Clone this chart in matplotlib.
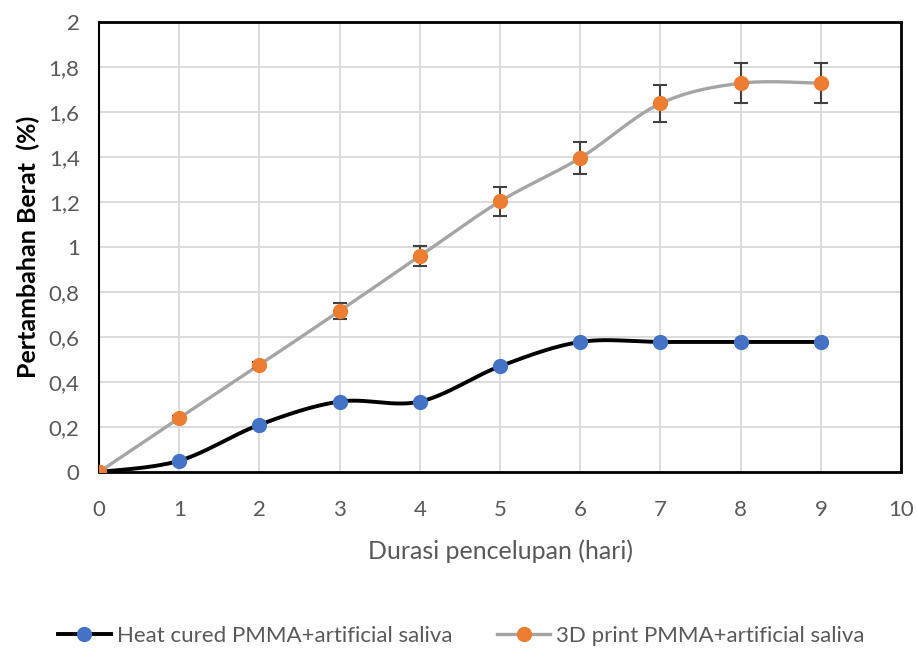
import numpy as np
import matplotlib
matplotlib.use("Agg")
import matplotlib.pyplot as plt
from matplotlib.lines import Line2D

plt.rcParams['font.family'] = ['Lato', 'DejaVu Sans']

# data
days = [0, 1, 2, 3, 4, 5, 6, 7, 8, 9]
heat_cured = [0, 0.05, 0.21, 0.313, 0.313, 0.47, 0.578, 0.578, 0.578, 0.578]
print3d = [0, 0.24, 0.476, 0.716, 0.96, 1.203, 1.396, 1.638, 1.728, 1.728]
print3d_err = [0, 0.01, 0.015, 0.037, 0.044, 0.063, 0.072, 0.081, 0.088, 0.088]
heat_label = 'Heat cured PMMA+artificial saliva'
print_label = '3D print PMMA+artificial saliva'


def smooth(x, y, n=40):
    # excel-like smoothed line (catmull-rom through the points)
    x = np.asarray(x, float)
    y = np.asarray(y, float)
    px = np.concatenate([[x[0]], x, [x[-1]]])
    py = np.concatenate([[y[0]], y, [y[-1]]])
    xs, ys = [], []
    t = np.linspace(0, 1, n)
    for i in range(1, len(px) - 2):
        p0, p1, p2, p3 = (np.array([px[j], py[j]]) for j in (i - 1, i, i + 1, i + 2))
        c1 = p1 + (p2 - p0) / 6
        c2 = p2 - (p3 - p1) / 6
        pts = ((1 - t) ** 3)[:, None] * p1 + (3 * (1 - t) ** 2 * t)[:, None] * c1 \
            + (3 * (1 - t) * t ** 2)[:, None] * c2 + (t ** 3)[:, None] * p2
        xs.extend(pts[:, 0])
        ys.extend(pts[:, 1])
    return xs, ys


blue = '#4472C4'
orange = '#ED7D31'
grey_line = '#A5A5A5'
txt = '#595959'

fig = plt.figure(figsize=(9.17, 6.48), dpi=100)
ax = fig.add_axes([0.108, 0.2716, 0.8746, 0.6944])

sx, sy = smooth(days, heat_cured)
ax.plot(sx, sy, color='black', lw=2.8, zorder=3, solid_capstyle='round')
ax.plot(days, heat_cured, 'o', color=blue, ms=10, zorder=4)

sx, sy = smooth(days, print3d)
ax.plot(sx, sy, color=grey_line, lw=2.4, zorder=5, solid_capstyle='round')
ax.errorbar(days, print3d, yerr=print3d_err, fmt='none', ecolor='#404040',
            elinewidth=1.5, capsize=5, capthick=1.5, zorder=6)
ax.plot(days, print3d, 'o', color=orange, ms=10, zorder=7)

ax.set_xlim(0, 10)
ax.set_ylim(0, 2)
ax.set_xticks(range(0, 11))
ax.set_yticks(np.arange(0, 2.01, 0.2))
ax.set_yticklabels([('%g' % v).replace('.', ',') for v in np.arange(0, 2.01, 0.2)])
ax.tick_params(length=0, labelsize=16, colors=txt)
ax.tick_params(axis='y', pad=14)
ax.tick_params(axis='x', pad=20)
ax.grid(True, color='#D9D9D9', lw=1.3)
ax.set_axisbelow(True)
for s in ax.spines.values():
    s.set_color('black')
    s.set_linewidth(2)
ax.spines['left'].set_linewidth(1.5)

ax.set_xlabel('Durasi pencelupan (hari)', fontsize=18, color=txt, labelpad=14)
ax.set_ylabel('Pertambahan Berat  (%)', fontsize=18, color='black', fontweight='bold', labelpad=6)

handles = [Line2D([], [], color='black', lw=2.8, marker='o', mfc=blue, mec=blue, ms=10),
           Line2D([], [], color=grey_line, lw=2.4, marker='o', mfc=orange, mec=orange, ms=10)]
fig.legend(handles, [heat_label, print_label], loc='center', bbox_to_anchor=(0.503, 0.019),
           ncol=2, frameon=False, fontsize=16, handlelength=2.4, handletextpad=0.27,
           columnspacing=2.0, labelcolor=txt)

fig.savefig('out.png', dpi=100)
